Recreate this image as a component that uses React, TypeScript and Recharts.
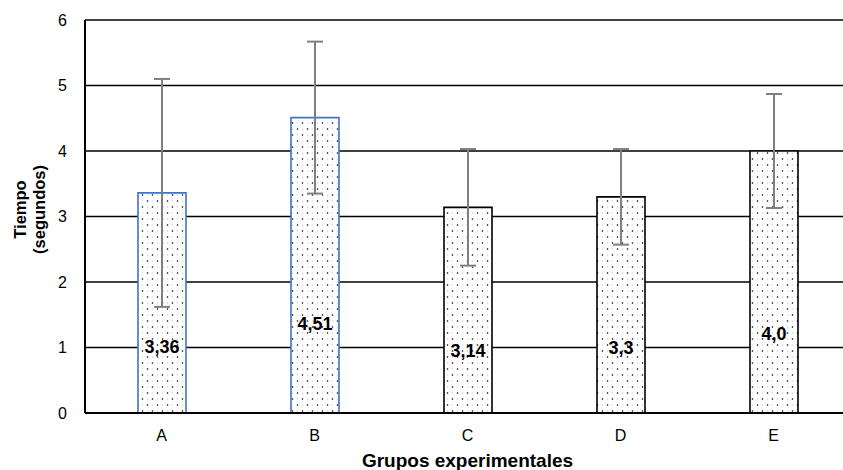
import React from "react";
import {
  BarChart,
  Bar,
  XAxis,
  YAxis,
  CartesianGrid,
  ErrorBar,
  Cell,
  LabelList,
  Label,
} from "recharts";

const categories = ["A", "B", "C", "D", "E"];
const means = [3.36, 4.51, 3.14, 3.3, 4.0];
const errors = [1.74, 1.16, 0.89, 0.73, 0.87];
const valueLabels = ["3,36", "4,51", "3,14", "3,3", "4,0"];
const barStrokes = ["#4472C4", "#4472C4", "#000000", "#000000", "#000000"];
const yTicks = [0, 1, 2, 3, 4, 5, 6];

const data = categories.map((c, i) => ({
  name: c,
  value: means[i],
  err: errors[i],
  label: valueLabels[i],
}));

const FONT = "'Liberation Sans', Arial, sans-serif";

const ValueLabel = (props: any) => {
  const { x, y, width, height, index } = props;
  return (
    <text
      x={x + width / 2}
      y={y + height * 0.7}
      textAnchor="middle"
      dominantBaseline="central"
      fontFamily={FONT}
      fontWeight="bold"
      fontSize={18}
      fill="#000"
    >
      {valueLabels[index]}
    </text>
  );
};

const YTitle = (props: any) => {
  const { viewBox } = props;
  const cy = viewBox.y + viewBox.height / 2 - 7;
  return (
    <g>
      <text
        transform={`translate(26, ${cy}) rotate(-90)`}
        textAnchor="middle"
        fontFamily={FONT}
        fontWeight="bold"
        fontSize={16.5}
        fill="#000"
      >
        Tiempo
      </text>
      <text
        transform={`translate(45, ${cy}) rotate(-90)`}
        textAnchor="middle"
        fontFamily={FONT}
        fontWeight="bold"
        fontSize={16.5}
        fill="#000"
      >
        (segundos)
      </text>
    </g>
  );
};

const XTitle = (props: any) => {
  const { viewBox } = props;
  return (
    <text
      x={viewBox.x + viewBox.width / 2}
      y={467}
      textAnchor="middle"
      fontFamily={FONT}
      fontWeight="bold"
      fontSize={19}
      fill="#000"
    >
      Grupos experimentales
    </text>
  );
};

export default function App() {
  return (
    <div
      style={{
        position: "absolute",
        left: 0,
        top: 0,
        width: 843,
        height: 470,
        overflow: "hidden",
        background: "#fff",
      }}
    >
      <BarChart
        width={852}
        height={470}
        data={data}
        margin={{ top: 20, right: 2, bottom: 17, left: 0 }}
      >
        <defs>
          <pattern id="dots" width="10" height="12" patternUnits="userSpaceOnUse">
            <rect width="10" height="12" fill="#ffffff" />
            <circle cx="2.5" cy="3" r="0.8" fill="#000" />
            <circle cx="7.5" cy="9" r="0.8" fill="#000" />
            <circle cx="7.5" cy="3" r="0.6" fill="#bbb" />
            <circle cx="2.5" cy="9" r="0.6" fill="#bbb" />
          </pattern>
        </defs>
        <CartesianGrid vertical={false} stroke="#000" strokeWidth={1.6} />
        <XAxis
          dataKey="name"
          height={40}
          axisLine={{ stroke: "#000", strokeWidth: 2 }}
          tickLine={false}
          tickSize={0}
          tickMargin={17}
          tick={{ fill: "#000", fontSize: 16, fontFamily: FONT }}
        >
          <Label content={<XTitle />} />
        </XAxis>
        <YAxis
          width={85}
          domain={[0, 6]}
          ticks={yTicks}
          interval={0}
          axisLine={{ stroke: "#000", strokeWidth: 2 }}
          tickLine={false}
          tickSize={0}
          tickMargin={18}
          tick={{ fill: "#000", fontSize: 16, fontFamily: FONT }}
        >
          <Label content={<YTitle />} />
        </YAxis>
        <Bar
          dataKey="value"
          barSize={48}
          fill="url(#dots)"
          strokeWidth={1.6}
          isAnimationActive={false}
        >
          {data.map((d, i) => (
            <Cell key={d.name} fill="url(#dots)" stroke={barStrokes[i]} />
          ))}
          <ErrorBar
            dataKey="err"
            width={8}
            stroke="#808080"
            strokeWidth={2}
            direction="y"
          />
          <LabelList dataKey="label" content={<ValueLabel />} />
        </Bar>
      </BarChart>
    </div>
  );
}
